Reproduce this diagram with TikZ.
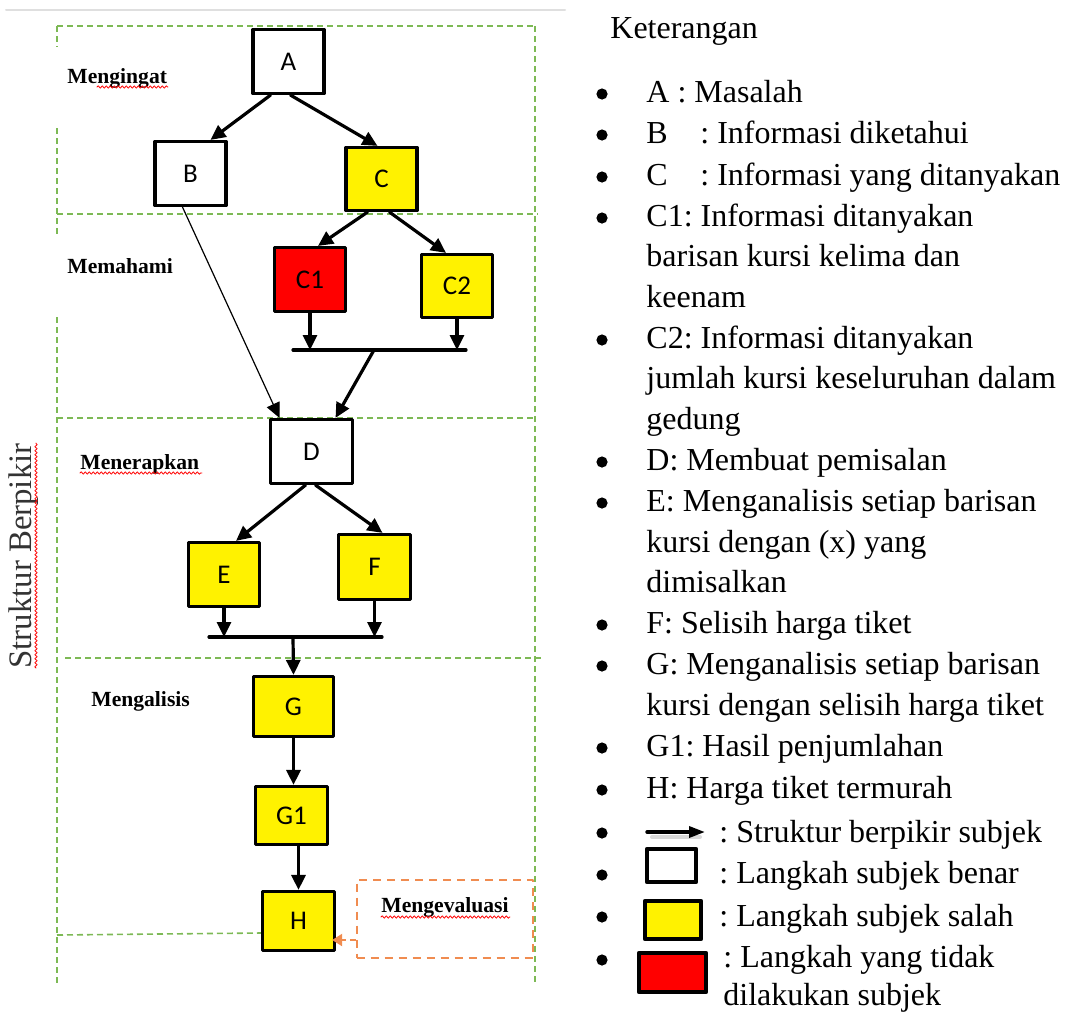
\documentclass[tikz,border=0pt]{standalone}
\usepackage{fontspec}
\setmainfont{Liberation Serif}
\newfontfamily\boxfont{Carlito}
\usepackage{tikz}
\usetikzlibrary{arrows.meta, decorations.pathmorphing}
\definecolor{frameGreen}{RGB}{125,185,85}
\definecolor{evalOrange}{RGB}{240,140,80}
\frenchspacing

\begin{document}
\begin{tikzpicture}[x=0.5pt, y=-0.5pt, line cap=round, line join=round,
    >={Triangle[length=7.5pt,width=7pt]},
    stepbox/.style={draw, line width=1.6pt, inner sep=0pt, minimum width=35.5pt, minimum height=32pt, font=\boxfont\fontsize{13.5}{16}\selectfont},
    okbox/.style={stepbox, fill=white},
    wrongbox/.style={stepbox, fill=yellow},
    skipbox/.style={stepbox, fill=red},
    flow/.style={->, line width=1.6pt},
    levelline/.style={frameGreen, line width=0.8pt, dash pattern=on 3pt off 2pt, line cap=butt},
    stage/.style={anchor=base west, inner sep=0pt, font=\bfseries\fontsize{10.8}{13}\selectfont},
    squiggle/.style={red, line width=0.4pt, decorate, decoration={snake, amplitude=0.6pt, segment length=2pt}},
    evalbox/.style={draw=evalOrange, line width=1pt, dash pattern=on 4pt off 3pt, line cap=butt, minimum width=88pt, minimum height=39pt, inner sep=0pt},
    keytext/.style={anchor=base west, inner sep=0pt, font=\fontsize{16}{20}\selectfont}]

        \useasboundingbox (0,0) rectangle (1065,1013);

        % Page rule at the top
        \draw[gray!25, line width=1pt] (6,10) -- (565,10);

        % Frame of the thinking levels
        \draw[levelline] (57,26) -- (535,26);
        \draw[levelline] (57,214) -- (538,214);
        \draw[levelline] (57,418) -- (535,418);
        \draw[levelline] (65,658) -- (541,658);
        \draw[levelline] (57,935) -- (261,933);
        \draw[levelline] (57,26) -- (57,47);
        \draw[levelline] (57,128) -- (57,237);
        \draw[levelline] (57,317) -- (57,983);
        \draw[levelline] (535,26) -- (535,983);

        % Level names
        \node[stage] (lvRemember) at (67,83) {Mengingat};
        \node[stage] (lvUnderstand) at (67,273) {Memahami};
        \node[stage] (lvApply) at (80,469) {Menerapkan};
        \node[stage] (lvAnalyse) at (91,706) {Mengalisis};
        \node[rotate=90, inner sep=0pt, text=black!80, font=\fontsize{16.4}{19}\selectfont] (struct) at (24,556) {Struktur Berpikir};

        % Spelling marks
        \draw[squiggle] (97,87) -- (168,87);
        \draw[squiggle] (80,473) -- (202,473);
        \draw[squiggle] (36,668) -- (36,443);

        % Steps
        \node[okbox] (A) at (288.5,61.5) {A};
        \node[okbox] (B) at (190.5,173.5) {B};
        \node[wrongbox, minimum height=31.5pt] (C) at (381.5,179) {C};
        \node[skipbox] (C1) at (310,279.5) {C1};
        \node[wrongbox, minimum height=31.5pt] (C2) at (457,286) {C2};
        \node[okbox, minimum width=41pt] (D) at (311.5,451.5) {D};
        \node[wrongbox] (E) at (224,574.5) {E};
        \node[wrongbox, minimum width=36pt, minimum height=32.5pt] (F) at (374.5,567) {F};
        \node[wrongbox, minimum width=40pt, minimum height=30pt] (G) at (293.5,706.5) {G};
        \node[wrongbox, minimum width=36pt, minimum height=29pt] (G1) at (291.5,815.5) {G1};
        \node[wrongbox, minimum width=36pt, minimum height=29.5pt] (H) at (298.5,921) {H};

        % Joining bars
        \coordinate (bar1l) at (293,350);
        \coordinate (bar1r) at (466,350);
        \coordinate (bar1m) at (374,350);
        \coordinate (bar2l) at (209,637);
        \coordinate (bar2r) at (382,637);
        \coordinate (bar2m) at (293,637);
        \draw[line width=1.6pt] (bar1l) -- (bar1r);
        \draw[line width=1.6pt] (bar2l) -- (bar2r);

        % Thinking flow
        \draw[flow] ([xshift=-9pt]A.south) -- ([xshift=10pt]B.north);
        \draw[flow] ([xshift=1pt]A.south) -- ([xshift=-2pt]C.north);
        \draw[flow] ([xshift=-7pt]C.south) -- ([xshift=4pt]C1.north);
        \draw[flow] ([xshift=4pt]C.south) -- ([xshift=-5.5pt]C2.north);
        \draw[flow] (C1.south) -- (C1.south |- bar1l);
        \draw[flow] (C2.south) -- (C2.south |- bar1r);
        \draw[flow] (bar1m) -- ([xshift=12pt]D.north);
        \draw[flow, line width=0.6pt] ([xshift=-4pt]B.south) -- ([xshift=-16pt]D.north);
        \draw[flow] ([xshift=-3pt]D.south) -- ([xshift=6pt]E.north);
        \draw[flow] ([xshift=2pt]D.south) -- ([xshift=4pt]F.north);
        \draw[flow] (E.south) -- (E.south |- bar2l);
        \draw[flow] (F.south) -- (F.south |- bar2r);
        \draw[flow] (bar2m) -- (G.north);
        \draw[flow] (G.south) -- (G.south |- G1.north);
        \draw[flow] (H.north |- G1.south) -- (H.north);

        % Evaluation step
        \node[evalbox] (evl) at (444.5,918.5) {};
        \node[stage] (lvEvaluate) at (381,912) {Mengevaluasi};
        \draw[squiggle] (381,917) -- (510,917);
        \coordinate (evin) at ([yshift=-10.75pt]evl.west);
        \draw[evalOrange, line width=1pt, dash pattern=on 3pt off 2pt, line cap=butt, -{Triangle[length=5pt,width=6pt]}, shorten >=-2pt] (evin) -- (evin -| H.east);

        % Legend
        \node[keytext] (kTitle) at (610,38) {Keterangan};
        \node[keytext] (kA) at (646,102) {A : Masalah};
        \node[keytext] (kB) at (646,143) {B};
        \node[keytext] (kBt) at (700,143) {: Informasi diketahui};
        \node[keytext] (kC) at (646,185) {C};
        \node[keytext] (kCt) at (700,185) {: Informasi yang ditanyakan};
        \node[keytext] (kC1) at (646,226) {C1: Informasi ditanyakan};
        \node[keytext] (kC1b) at (646,266) {barisan kursi kelima dan};
        \node[keytext] (kC1c) at (646,307) {keenam};
        \node[keytext] (kC2) at (646,348) {C2: Informasi ditanyakan};
        \node[keytext] (kC2b) at (646,388) {jumlah kursi keseluruhan dalam};
        \node[keytext] (kC2c) at (646,429) {gedung};
        \node[keytext] (kD) at (646,470) {D: Membuat pemisalan};
        \node[keytext] (kE) at (646,511) {E: Menganalisis setiap barisan};
        \node[keytext] (kEb) at (646,552) {kursi dengan (x) yang};
        \node[keytext] (kEc) at (646,592) {dimisalkan};
        \node[keytext] (kF) at (646,633) {F: Selisih harga tiket};
        \node[keytext] (kG) at (646,674) {G: Menganalisis setiap barisan};
        \node[keytext] (kGb) at (646,715) {kursi dengan selisih harga tiket};
        \node[keytext] (kG1) at (646,756) {G1: Hasil penjumlahan};
        \node[keytext] (kH) at (646,798) {H: Harga tiket termurah};

        % Legend symbols
        \coordinate (kArrS) at (647,832);
        \coordinate (kArrE) at (705,832);
        \draw[gray!30, line width=2pt] (652,837) -- (700,837);
        \draw[-{Triangle[length=8pt,width=5.5pt]}, line width=1.7pt] (kArrS) -- (kArrE);
        \node[okbox, line width=2.2pt, minimum width=24.5pt, minimum height=16.5pt] (kOk) at (671.5,865.5) {};
        \node[wrongbox, line width=2.2pt, minimum width=28pt, minimum height=19pt] (kWrong) at (673,920) {};
        \node[skipbox, line width=2.2pt, minimum width=33.5pt, minimum height=19.5pt] (kSkip) at (672.5,972.5) {};
        \node[keytext] (kArrT) at (719,842) {: Struktur berpikir subjek};
        \node[keytext] (kOkT) at (719,883) {: Langkah subjek benar};
        \node[keytext] (kWrongT) at (719,926) {: Langkah subjek salah};
        \node[keytext] (kSkipT) at (723,967) {: Langkah yang tidak};
        \node[keytext] (kSkipT2) at (723,1005) {dilakukan subjek};

        % Bullets
        \fill (602,94) circle (2.8pt) (602,135) circle (2.8pt) (602,177) circle (2.8pt)
              (602,218) circle (2.8pt) (602,340) circle (2.8pt) (602,462) circle (2.8pt)
              (602,503) circle (2.8pt) (602,625) circle (2.8pt) (602,666) circle (2.8pt)
              (602,748) circle (2.8pt) (602,790) circle (2.8pt) (602,833) circle (2.8pt)
              (602,875) circle (2.8pt) (602,917) circle (2.8pt) (602,960) circle (2.8pt);
    \end{tikzpicture}
\end{document}
